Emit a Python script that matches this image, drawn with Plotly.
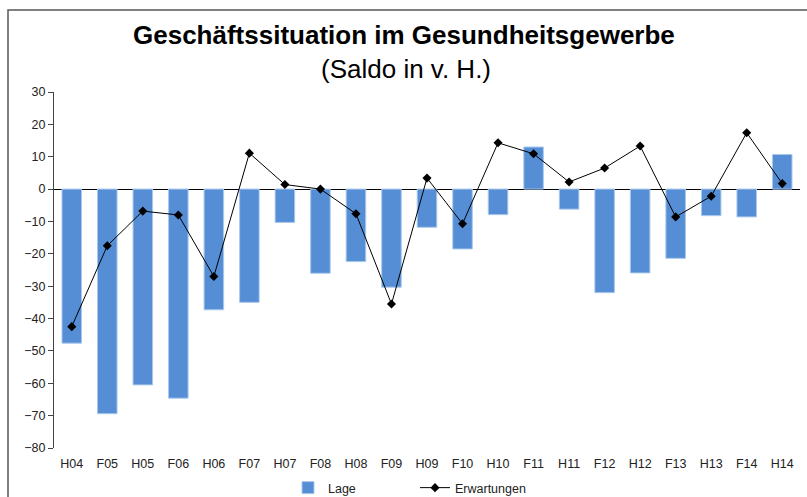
import plotly.graph_objects as go

categories = ["H04", "F05", "H05", "F06", "H06", "F07", "H07", "F08", "H08", "F09", "H09",
              "F10", "H10", "F11", "H11", "F12", "H12", "F13", "H13", "F14", "H14"]
lage = [-47.6, -69.4, -60.5, -64.6, -37.3, -35.0, -10.3, -26.0, -22.4, -30.3, -11.8,
        -18.5, -7.9, 13.0, -6.2, -32.0, -25.9, -21.4, -8.2, -8.6, 10.7]
erwartungen = [-42.5, -17.5, -6.8, -8.0, -27.0, 11.1, 1.4, 0.0, -7.6, -35.5, 3.4,
               -10.7, 14.3, 10.9, 2.2, 6.5, 13.3, -8.6, -2.2, 17.4, 1.7]
y_ticks = [30, 20, 10, 0, -10, -20, -30, -40, -50, -60, -70, -80]

font_family = "Liberation Sans, Arial, sans-serif"

W, H = 807, 497
L, R, T, B = 54, 7, 92, 49
plot_w = W - L - R
plot_h = H - T - B


def py(px):
    return (H - B - px) / plot_h


def px_(x):
    return (x - L) / plot_w


fig = go.Figure()
fig.add_trace(go.Bar(
    x=categories, y=lage, name="Lage",
    marker=dict(color="#558ed5", line=dict(color="#a9c8ec", width=1)),
))
fig.add_trace(go.Scatter(
    x=categories, y=erwartungen, name="Erwartungen", mode="lines+markers",
    line=dict(color="black", width=1),
    marker=dict(symbol="diamond", size=7, color="black"),
))

fig.update_layout(
    width=W, height=H,
    margin=dict(l=L, r=R, t=T, b=B),
    paper_bgcolor="white", plot_bgcolor="white",
    bargap=0.45,
    showlegend=True,
    font=dict(family=font_family, size=12.5, color="#222"),
    legend=dict(orientation="h", xref="container", yref="container",
                x=(288) / W, xanchor="left", y=(H - 488) / H, yanchor="middle",
                font=dict(size=12.5, color="#222"), traceorder="normal",
                itemwidth=30, entrywidth=82, bgcolor="rgba(0,0,0,0)"),
    annotations=[
        dict(text="<b>Geschäftssituation im Gesundheitsgewerbe</b>", x=px_(404), xref="paper",
             y=py(35), yref="paper", yanchor="middle",
             showarrow=False, font=dict(size=26, color="black")),
        dict(text="(Saldo in v. H.)", x=px_(406), xref="paper",
             y=py(69), yref="paper", yanchor="middle",
             showarrow=False, font=dict(size=26, color="black")),
    ],
    shapes=[
        dict(type="rect", xref="paper", yref="paper",
             x0=px_(8), y0=-0.3, x1=1.05, y1=py(10),
             line=dict(color="#555", width=1.5), layer="below"),
    ],
)

fig.update_xaxes(
    type="category", range=[-0.5, len(categories) - 0.5],
    showgrid=False, showline=False, ticks="", zeroline=False,
    ticklabelstandoff=6,
    automargin=False, tickfont=dict(size=12.5, color="#222"),
)
fig.update_yaxes(
    range=[-80, 30], tickvals=y_ticks, showgrid=False, showline=True,
    linecolor="#444", linewidth=1, ticks="outside", ticklen=5, tickcolor="#444",
    zeroline=True, zerolinecolor="black", zerolinewidth=1,
    automargin=False, tickfont=dict(size=12.5, color="#222"),
)

fig.write_html("out.html", config={"displayModeBar": False},
               post_script="document.body.style.margin='0';document.body.style.overflow='hidden';")
